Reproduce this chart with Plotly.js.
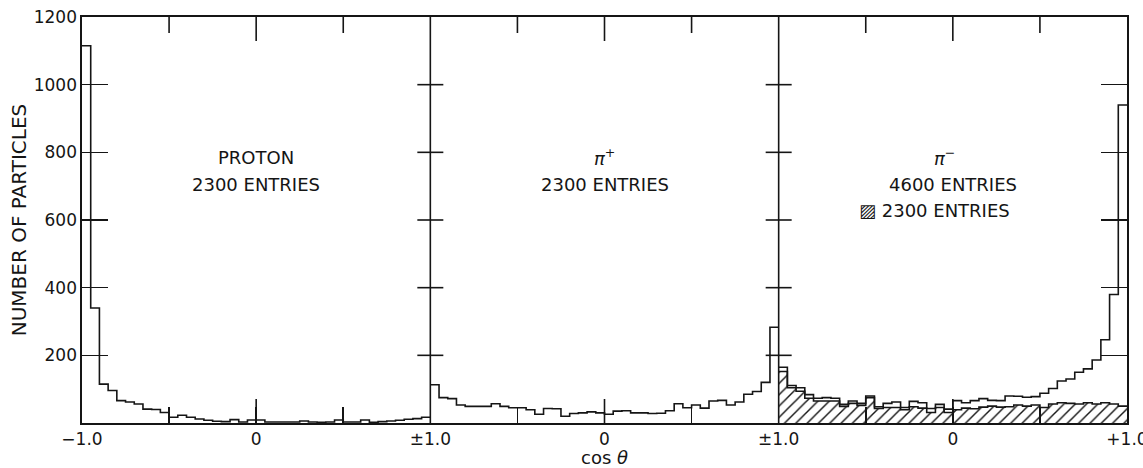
<!DOCTYPE html>
<html>
<head>
<meta charset="utf-8">
<script src="https://cdn.plot.ly/plotly-3.0.1.min.js"></script>
<style>html,body{margin:0;padding:0;background:#fff}</style>
</head>
<body>
<div id="chart" style="width:1143px;height:468px"></div>
<script>
// Angular distributions, 40 bins of width 0.05 in cos(theta) from -1 to +1
const binWidth = 0.05;
const proton = [1115, 340, 115, 96, 66, 62, 56, 41, 40, 31,
                17, 23, 17, 12, 8, 5, 4, 10, 3, 9,
                9, 3, 3, 3, 3, 6, 3, 2, 3, 9,
                3, 3, 9, 2, 4, 6, 8, 11, 13, 17];
const piPlus = [113, 75, 72, 53, 49, 49, 49, 57, 49, 45,
                45, 39, 26, 43, 42, 20, 28, 30, 33, 30,
                26, 35, 36, 30, 30, 28, 29, 36, 57, 45,
                53, 44, 65, 67, 53, 62, 85, 93, 120, 283];
const piMinusAll = [165, 111, 104, 84, 73, 75, 73, 55, 65, 58,
                    80, 48, 58, 62, 46, 64, 60, 43, 55, 41,
                    66, 60, 66, 72, 67, 66, 80, 79, 76, 78,
                    88, 102, 124, 130, 150, 160, 186, 246, 380, 940];
const piMinusSub = [152, 104, 94, 73, 65, 65, 65, 49, 58, 52,
                    75, 43, 46, 46, 39, 48, 44, 31, 46, 31,
                    39, 44, 42, 47, 50, 47, 48, 53, 50, 53,
                    46, 56, 60, 58, 56, 60, 56, 60, 56, 50];

// the three panels sit side by side on one axis, each spanning cos(theta) -1..+1
const panelCenters = [0, 2, 4];
const xTickVals = [-1, -0.5, 0, 0.5, 1, 1.5, 2, 2.5, 3, 3.5, 4, 4.5, 5];
const xTickText = ['\u22121.0', '', '0', '', '\u00b11.0', '', '0', '', '\u00b11.0', '', '0', '', '+1.0'];
const yTickVals = [200, 400, 600, 800, 1000, 1200];
const yTickText = ['200', '400', '600', '800', '1000', '1200'];
const yMax = 1200;

const ink = '#151515';
const font = 'DejaVu Sans, sans-serif';

// bin edges and step heights for an outline histogram in a given panel
function edges(n, c) { return Array.from({length: n + 1}, (_, i) => c - 1 + i * binWidth); }
function stepY(v) { return v.concat([v[v.length - 1]]); }

function stepTrace(vals, c, extra) {
  return Object.assign({
    type: 'scatter', mode: 'lines', x: edges(vals.length, c), y: stepY(vals),
    line: {shape: 'hv', color: ink, width: 1.6},
    showlegend: false, hoverinfo: 'skip'
  }, extra || {});
}

const traces = [
  stepTrace(proton, panelCenters[0]),
  stepTrace(piPlus, panelCenters[1]),
  // hatched sub-sample under the full pi- distribution
  stepTrace(piMinusSub, panelCenters[2], {
    fill: 'tozeroy', fillcolor: 'white',
    fillpattern: {shape: '/', fgcolor: ink, bgcolor: 'white', size: 8, solidity: 0.18}
  }),
  stepTrace(piMinusAll, panelCenters[2])
];

// panel dividers, their crossing ticks, and the tick marks along the top and bottom edges
const shapes = [];
const tickLine = {color: ink, width: 1.6};
function vTick(v, anchor, len) {
  return {type: 'line', xref: 'x', yref: 'y', x0: v, x1: v,
          ysizemode: 'pixel', yanchor: anchor, y0: 0, y1: len, line: tickLine};
}
panelCenters.forEach(c => {
  shapes.push(vTick(c, 0, 24));
  shapes.push(vTick(c, yMax, -24));
  [c - 0.5, c + 0.5].forEach(v => shapes.push(vTick(v, yMax, -16)));
});
panelCenters.slice(0, -1).map(c => c + 1).forEach(b => {
  shapes.push({type: 'line', xref: 'x', yref: 'y', x0: b, x1: b, y0: 0, y1: yMax,
               line: {color: ink, width: 1.6}});
  yTickVals.slice(0, -1).forEach(v => {
    shapes.push({type: 'line', xref: 'x', yref: 'y', y0: v, y1: v,
                 xsizemode: 'pixel', xanchor: b, x0: -13, x1: 13, line: tickLine});
  });
});

const plotL = 82, plotR = 16;

const layout = {
  width: 1143, height: 468,
  margin: {l: plotL, r: plotR, t: 17, b: 45},
  paper_bgcolor: 'white', plot_bgcolor: 'white',
  font: {family: font, color: ink, size: 18},
  showlegend: false,
  xaxis: {
    range: [panelCenters[0] - 1, panelCenters[2] + 1], showgrid: false, zeroline: false,
    showline: true, linecolor: ink, linewidth: 1.6, mirror: true,
    ticks: 'inside', ticklen: 16, tickwidth: 1.6, tickcolor: ink,
    tickmode: 'array', tickvals: xTickVals, ticktext: xTickText,
    ticklabeloverflow: 'allow',
    tickfont: {family: font, size: 17, color: ink},
    title: {text: 'cos <i>\u03b8</i>', font: {family: font, size: 18, color: ink}, standoff: 6}
  },
  yaxis: {
    range: [0, yMax], showgrid: false, zeroline: false,
    showline: true, linecolor: ink, linewidth: 1.6, mirror: 'ticks',
    ticks: 'inside', ticklen: 26, tickwidth: 1.6, tickcolor: ink,
    tickmode: 'array', tickvals: yTickVals, ticktext: yTickText,
    tickfont: {family: font, size: 17, color: ink},
    title: {text: 'NUMBER OF PARTICLES', font: {family: font, size: 20, color: ink}, standoff: 2}
  },
  shapes: shapes,
  annotations: [
    {x: panelCenters[0], y: 786, text: 'PROTON'},
    {x: panelCenters[0], y: 706, text: '2300 ENTRIES'},
    {x: panelCenters[1], y: 786, text: '<i>\u03c0</i><sup>+</sup>'},
    {x: panelCenters[1], y: 706, text: '2300 ENTRIES'},
    {x: panelCenters[2] - 0.05, y: 786, text: '<i>\u03c0</i><sup>\u2212</sup>'},
    {x: panelCenters[2], y: 706, text: '4600 ENTRIES'},
    {x: panelCenters[2] - 0.55, y: 627, text: '\u25a8 2300 ENTRIES', xanchor: 'left'}
  ].map(a => Object.assign({xref: 'x', yref: 'y', showarrow: false}, a))
};

Plotly.newPlot('chart', traces, layout, {displayModeBar: false, staticPlot: true});
</script>
</body>
</html>
